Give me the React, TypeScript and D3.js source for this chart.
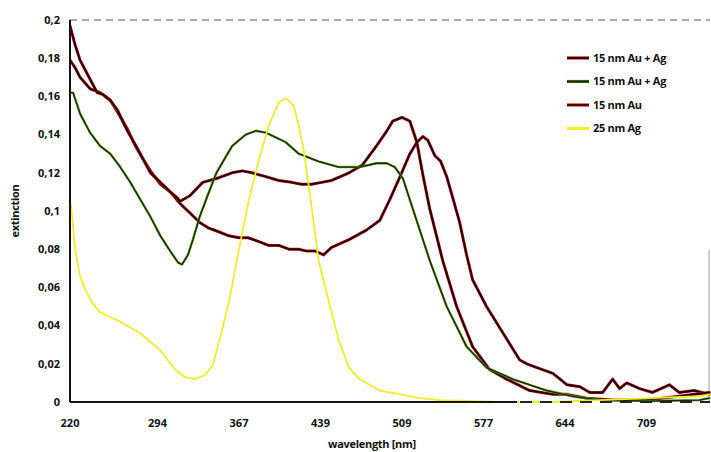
import React from "react";
import * as d3 from "d3";

// ---- data (wavelength nm, extinction) ----
const xTickLabels = [220, 294, 367, 439, 509, 577, 644, 709];
const yTickValues = [0, 0.02, 0.04, 0.06, 0.08, 0.1, 0.12, 0.14, 0.16, 0.18, 0.2];

const seriesNames = ["15 nm Au + Ag", "15 nm Au + Ag", "15 nm Au", "25 nm Ag"];

const auAgUpper: [number, number][] = [
  [220, 0.197], [224.3, 0.187], [228.5, 0.179], [237, 0.169], [243, 0.162], [248, 0.161],
  [254, 0.158], [260, 0.153], [268.5, 0.142], [275, 0.135], [282, 0.127], [288, 0.12],
  [296.6, 0.115], [305.4, 0.11], [311.6, 0.107], [314, 0.105], [323, 0.108], [334.5, 0.115],
  [346.8, 0.117], [360.8, 0.12], [370, 0.121], [378.4, 0.12], [390.7, 0.118], [402, 0.116],
  [413.5, 0.115], [422, 0.114], [431, 0.114], [440, 0.115], [448.6, 0.116], [463.5, 0.12],
  [474.9, 0.124], [487, 0.134], [496, 0.142], [501, 0.147], [509, 0.149], [515.6, 0.147],
  [521.4, 0.136], [526.4, 0.119], [532.2, 0.101], [543, 0.074], [554.6, 0.05], [567.9, 0.029],
  [582, 0.017], [596, 0.012], [615, 0.006], [634, 0.004], [645.6, 0.004], [661.4, 0.002],
  [682, 0.001], [709, 0.001], [735, 0.003], [759, 0.005],
];

const auAgGreen: [number, number][] = [
  [220, 0.162], [222.6, 0.162], [228.5, 0.151], [237, 0.141], [245.5, 0.134], [254, 0.13],
  [262.5, 0.123], [271, 0.115], [279.5, 0.106], [288, 0.097], [296.6, 0.087], [305.4, 0.079],
  [312.5, 0.073], [316, 0.072], [321.3, 0.077], [325.7, 0.085], [331.8, 0.097], [338.8, 0.108],
  [346.8, 0.12], [353.8, 0.127], [360.8, 0.134], [373, 0.14], [382, 0.142], [390.7, 0.141],
  [408.3, 0.136], [419.7, 0.13], [437.2, 0.126], [454.8, 0.123], [472.4, 0.123], [487, 0.125],
  [496, 0.125], [502.8, 0.123], [509.8, 0.117], [518.1, 0.101], [532.2, 0.074], [546.3, 0.05],
  [562.9, 0.029], [579.5, 0.018], [601, 0.012], [629, 0.006], [650, 0.003], [672.1, 0.001],
  [711.6, 0.0005], [751, 0.001], [759, 0.002],
];

const au15: [number, number][] = [
  [220, 0.179], [224.3, 0.175], [228.5, 0.17], [237, 0.164], [245.5, 0.162], [254, 0.158],
  [260, 0.152], [268.5, 0.143], [275.3, 0.134], [282, 0.127], [288, 0.121], [296.6, 0.114],
  [305.4, 0.11], [314, 0.104], [323, 0.099], [331.8, 0.094], [340, 0.091], [349.4, 0.089],
  [358, 0.087], [367, 0.086], [375, 0.086], [384.6, 0.084], [393, 0.082], [402, 0.082],
  [411, 0.08], [419.7, 0.08], [427, 0.079], [434.6, 0.079], [441.6, 0.077], [448.6, 0.081],
  [463.5, 0.085], [478.4, 0.09], [489.8, 0.095], [498.5, 0.106], [507.3, 0.118], [515.6, 0.13],
  [521.4, 0.136], [526.4, 0.139], [530.6, 0.137], [536.4, 0.129], [541.3, 0.126], [546.3, 0.118],
  [551.3, 0.107], [557.1, 0.094], [562.9, 0.077], [567.9, 0.064], [579.5, 0.05], [590.2, 0.039],
  [599, 0.03], [606.8, 0.022], [612.6, 0.02], [620.9, 0.018], [634, 0.015], [639.9, 0.012],
  [645.6, 0.009], [655.9, 0.008], [663.8, 0.005], [674.1, 0.005], [682, 0.012], [687.6, 0.007],
  [693.2, 0.01], [703.5, 0.007], [713.8, 0.005], [727.2, 0.009], [735.2, 0.005], [747, 0.006],
  [759, 0.004],
];

const ag25: [number, number][] = [
  [220.9, 0.103], [224.3, 0.08], [228.5, 0.066], [232.8, 0.059], [238.7, 0.052], [245.5, 0.047],
  [262.5, 0.042], [279.5, 0.036], [296.6, 0.027], [309.8, 0.017], [318.6, 0.013], [327.4, 0.012],
  [336.2, 0.014], [343.3, 0.019], [349.4, 0.032], [358.2, 0.053], [367, 0.08], [375.8, 0.106],
  [384.6, 0.127], [393.4, 0.145], [402.2, 0.157], [409.2, 0.159], [415.3, 0.155], [419.7, 0.145],
  [424.1, 0.132], [430.3, 0.106], [437.3, 0.074], [446, 0.053], [454.8, 0.032], [463.5, 0.018],
  [472.4, 0.012], [489.8, 0.006], [507.3, 0.004], [524, 0.002], [540.6, 0.001], [590.2, 0],
  [631.6, 0], [672.1, 0.001], [711.6, 0.002], [751, 0.003], [759, 0.004],
];

const W = 711;
const H = 452;

export default function App() {
  const left = 70;
  const top = 20;
  const bottom = 402;
  const right = 710;
  const step = 81.5;
  const firstGap = 87.5;

  const x = d3
    .scaleLinear()
    .domain(xTickLabels)
    .range(xTickLabels.map((_, i) => (i === 0 ? left : left + firstGap + (i - 1) * step)));
  const y = d3.scaleLinear().domain([0, 0.2]).range([bottom, top]);

  const line = d3
    .line<[number, number]>()
    .x((d) => x(d[0]))
    .y((d) => y(d[1]))
    .curve(d3.curveLinear);

  const fmt = (v: number) => d3.format("~g")(v).replace(".", ",");
  const font = "'Open Sans', 'DejaVu Sans', sans-serif";

  const legendColors = ["#2a0606", "#16200c", "#3a0808", "#f2ee30"];
  const legendAccents = ["#b01818", "#4f8a1a", "#d21a1a", "#f2ee30"];

  return (
    <svg
      width={W}
      height={H}
      style={{ position: "absolute", left: 0, top: 0, background: "#fff" }}
      fontFamily={font}
      fontWeight={700}
    >
      <defs>
        <clipPath id="plot">
          <rect x={left} y={top - 6} width={right - left + 2} height={bottom - top + 8} />
        </clipPath>
      </defs>

      {/* frame */}
      <line x1={left} x2={right} y1={top} y2={top} stroke="#555" strokeWidth={1} strokeDasharray="7 5" />
      <line x1={right - 1} x2={right - 1} y1={250} y2={bottom} stroke="#999" strokeWidth={1} />

      {/* curves */}
      <g clipPath="url(#plot)" fill="none" strokeLinejoin="round" strokeLinecap="round">
        <path d={line(au15) ?? ""} stroke="#d01c1c" strokeWidth={3} />
        <path d={line(au15) ?? ""} stroke="#1e0505" strokeWidth={1.9} />
        <path d={line(auAgUpper) ?? ""} stroke="#c81a1a" strokeWidth={3} />
        <path d={line(auAgUpper) ?? ""} stroke="#1e0505" strokeWidth={1.9} />
        <path d={line(auAgGreen) ?? ""} stroke="#5aa01c" strokeWidth={2.4} />
        <path d={line(auAgGreen) ?? ""} stroke="#18240a" strokeWidth={1.3} />
        <path d={line(ag25) ?? ""} stroke="#f0ec2a" strokeWidth={1.8} />
      </g>

      {/* axes */}
      <line x1={left} x2={left} y1={top} y2={bottom} stroke="#111" strokeWidth={2} />
      <line x1={left} x2={517} y1={bottom} y2={bottom} stroke="#111" strokeWidth={2} />
      <line x1={520} x2={right} y1={bottom} y2={bottom} stroke="#222" strokeWidth={2} strokeDasharray="12 8" />

      {yTickValues.map((v) => (
        <text key={v} x={60} y={y(v)} dy="0.35em" textAnchor="end" fontSize={11} fill="#111">
          {fmt(v)}
        </text>
      ))}
      {xTickLabels.map((v) => (
        <text key={v} x={x(v)} y={427} textAnchor="middle" fontSize={11} fill="#111">
          {v}
        </text>
      ))}

      <text x={372} y={448} textAnchor="middle" fontSize={11} fill="#111" letterSpacing={-0.3}>
        wavelength [nm]
      </text>
      <text
        transform={`translate(19,${(top + bottom) / 2}) rotate(-90)`}
        textAnchor="middle"
        fontSize={11}
        fill="#111"
        letterSpacing={-0.3}
      >
        extinction
      </text>

      {/* legend */}
      {seriesNames.map((name, i) => {
        const ly = 58 + i * 23.5;
        return (
          <g key={i}>
            <line x1={567} x2={589} y1={ly} y2={ly} stroke={legendAccents[i]} strokeWidth={3.2} />
            <line x1={567} x2={589} y1={ly} y2={ly} stroke={legendColors[i]} strokeWidth={i === 3 ? 2.4 : 1.8} />
            <text x={593} y={ly} dy="0.35em" fontSize={11} fill="#111" letterSpacing={-0.3}>
              {name}
            </text>
          </g>
        );
      })}
    </svg>
  );
}
